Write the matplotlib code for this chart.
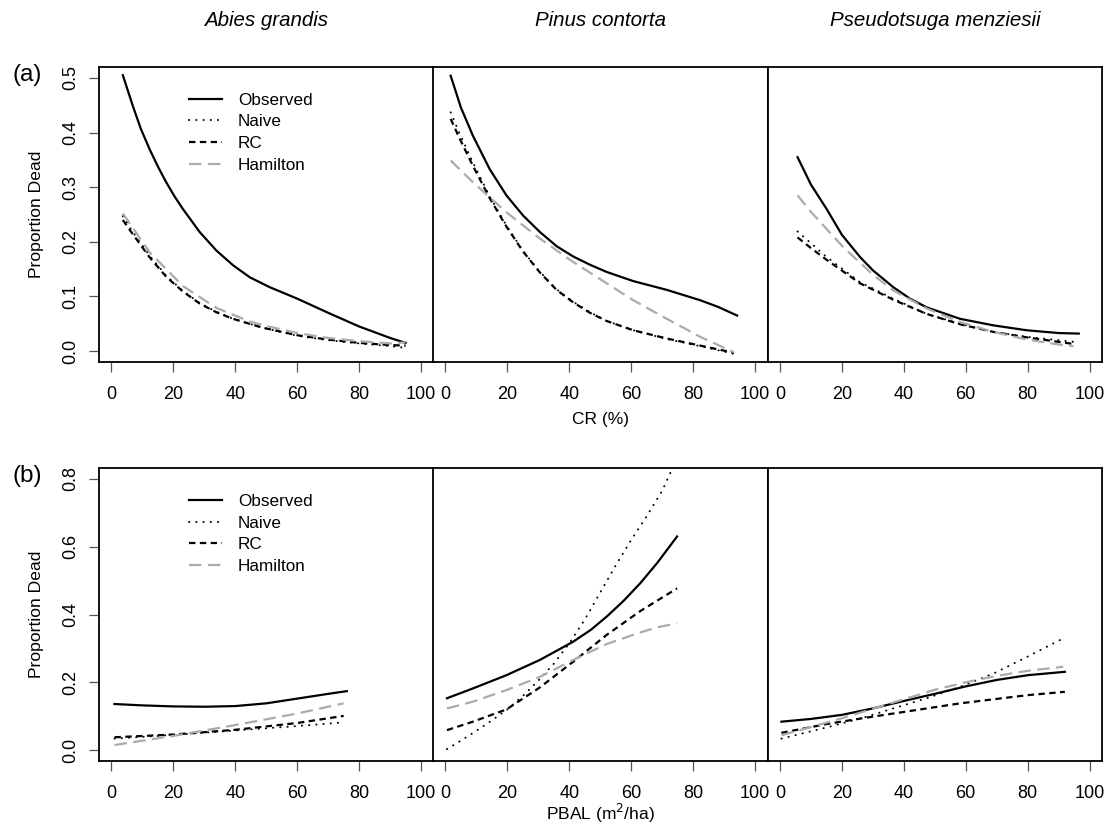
import matplotlib
matplotlib.use("Agg")
import matplotlib.pyplot as plt

plt.rcParams['font.family'] = ['Liberation Sans', 'DejaVu Sans']
plt.rcParams['lines.scale_dashes'] = False

species = ["Abies grandis", "Pinus contorta", "Pseudotsuga menziesii"]
series_names = ["Observed", "Naive", "RC", "Hamilton"]
x_ticks = [0, 20, 40, 60, 80, 100]
cr_y_ticks = [0.0, 0.1, 0.2, 0.3, 0.4, 0.5]
pbal_y_ticks = [0.0, 0.2, 0.4, 0.6, 0.8]

# ---------------- (a) CR ----------------
# Abies grandis
abgr_cr_obs_x = [3.7, 6.9, 9.5, 12.3, 15, 17.7, 20.4, 23.1, 28.5, 33.9, 39.3, 44.7, 51.1, 60, 70, 80, 90, 95]
abgr_cr_obs_y = [0.505, 0.449, 0.407, 0.370, 0.338, 0.309, 0.283, 0.260, 0.218, 0.184, 0.157, 0.135, 0.117, 0.096, 0.070, 0.045, 0.024, 0.015]
abgr_cr_naive_x = [3.7, 6.9, 12.3, 17.7, 23.1, 28.5, 33.9, 39.3, 48.7, 60, 70, 80, 90, 95]
abgr_cr_naive_y = [0.247, 0.218, 0.175, 0.138, 0.110, 0.088, 0.072, 0.059, 0.043, 0.028, 0.020, 0.014, 0.009, 0.006]
abgr_cr_rc_x = [3.7, 6.9, 12.3, 17.7, 23.1, 28.5, 33.9, 39.3, 48.7, 60, 70, 80, 90, 95]
abgr_cr_rc_y = [0.240, 0.214, 0.172, 0.136, 0.109, 0.087, 0.071, 0.059, 0.043, 0.029, 0.021, 0.015, 0.011, 0.010]
abgr_cr_ham_x = [3.7, 12.3, 23.1, 33.9, 44.7, 50, 60, 70, 80, 90, 95]
abgr_cr_ham_y = [0.252, 0.181, 0.119, 0.079, 0.054, 0.046, 0.033, 0.024, 0.018, 0.014, 0.016]

# Pinus contorta
pico_cr_obs_x = [1.7, 5, 8.9, 14.3, 19.7, 25.1, 30.5, 35.9, 41.3, 46.7, 52, 60.7, 71.5, 82.3, 88, 94.2]
pico_cr_obs_y = [0.504, 0.446, 0.394, 0.333, 0.285, 0.248, 0.218, 0.192, 0.173, 0.158, 0.145, 0.128, 0.112, 0.093, 0.081, 0.065]
pico_cr_naive_x = [1.7, 4.6, 8.9, 14.3, 19.7, 25.1, 30.5, 35.9, 41.3, 46.7, 52.1, 60.7, 71.5, 82.3, 93.1]
pico_cr_naive_y = [0.437, 0.398, 0.345, 0.283, 0.230, 0.183, 0.145, 0.113, 0.090, 0.071, 0.055, 0.038, 0.022, 0.009, -0.005]
pico_cr_rc_x = [1.7, 4.6, 8.9, 14.3, 19.7, 25.1, 30.5, 35.9, 41.3, 46.7, 52.1, 60.7, 71.5, 82.3, 93.1]
pico_cr_rc_y = [0.425, 0.389, 0.339, 0.280, 0.228, 0.182, 0.144, 0.112, 0.089, 0.070, 0.055, 0.038, 0.023, 0.010, -0.003]
pico_cr_ham_x = [1.7, 8.9, 19.7, 30.5, 41.3, 52.1, 60.7, 71.5, 82.3, 93.1]
pico_cr_ham_y = [0.349, 0.309, 0.254, 0.206, 0.163, 0.124, 0.093, 0.059, 0.026, -0.002]

# Pseudotsuga menziesii
psme_cr_obs_x = [5.7, 10, 15.1, 20, 25.9, 30, 36.6, 42, 47.4, 58.2, 69, 79.8, 90, 96.5]
psme_cr_obs_y = [0.355, 0.305, 0.260, 0.213, 0.172, 0.148, 0.117, 0.096, 0.080, 0.059, 0.047, 0.038, 0.033, 0.032]
psme_cr_naive_x = [5.7, 9.7, 15.1, 25.9, 36.6, 47.4, 58.2, 69, 79.8, 94.8]
psme_cr_naive_y = [0.219, 0.199, 0.172, 0.126, 0.096, 0.068, 0.050, 0.035, 0.026, 0.017]
psme_cr_rc_x = [5.7, 9.7, 15.1, 25.9, 36.6, 47.4, 58.2, 69, 79.8, 94.8]
psme_cr_rc_y = [0.208, 0.190, 0.167, 0.124, 0.094, 0.068, 0.049, 0.035, 0.025, 0.013]
psme_cr_ham_x = [5.7, 10, 20.5, 30, 36.6, 47.4, 58.2, 69, 79.8, 90, 94.8]
psme_cr_ham_y = [0.285, 0.255, 0.190, 0.140, 0.111, 0.078, 0.053, 0.035, 0.021, 0.012, 0.009]

# ---------------- (b) PBAL ----------------
abgr_pb_obs_x = [1, 10, 20, 30, 40, 50, 60, 70, 76]
abgr_pb_obs_y = [0.136, 0.132, 0.129, 0.128, 0.130, 0.138, 0.152, 0.166, 0.174]
abgr_pb_naive_x = [1, 20, 40, 60, 75]
abgr_pb_naive_y = [0.034, 0.045, 0.058, 0.071, 0.082]
abgr_pb_rc_x = [1, 20, 40, 60, 75]
abgr_pb_rc_y = [0.038, 0.046, 0.060, 0.080, 0.101]
abgr_pb_ham_x = [1, 20, 40, 60, 75]
abgr_pb_ham_y = [0.015, 0.042, 0.074, 0.108, 0.138]

pico_pb_obs_x = [0.5, 8.9, 19.7, 30.5, 41.3, 47, 52.1, 57.5, 62.9, 68.3, 74.8]
pico_pb_obs_y = [0.153, 0.182, 0.221, 0.266, 0.320, 0.355, 0.394, 0.440, 0.492, 0.551, 0.630]
pico_pb_naive_x = [0.5, 5, 10, 15, 20, 25, 30, 35, 40, 45, 50, 55, 60, 65, 70, 73]
pico_pb_naive_y = [0.003, 0.028, 0.057, 0.088, 0.120, 0.160, 0.205, 0.255, 0.315, 0.385, 0.465, 0.545, 0.620, 0.690, 0.765, 0.825]
pico_pb_rc_x = [0.5, 8.9, 19.7, 30.5, 41.3, 52.1, 62.9, 74.8]
pico_pb_rc_y = [0.059, 0.084, 0.120, 0.185, 0.261, 0.340, 0.410, 0.477]
pico_pb_ham_x = [0.5, 8.9, 19.7, 30.5, 41.3, 52.1, 62.9, 68.3, 74.8]
pico_pb_ham_y = [0.123, 0.143, 0.177, 0.216, 0.266, 0.313, 0.347, 0.362, 0.374]

psme_pb_obs_x = [0.5, 10, 20, 30, 40, 50, 60, 70, 80, 92]
psme_pb_obs_y = [0.084, 0.092, 0.104, 0.123, 0.145, 0.166, 0.188, 0.207, 0.221, 0.231]
psme_pb_naive_x = [0.5, 15.1, 25.9, 36.6, 47.4, 58.2, 69, 79.8, 90.5]
psme_pb_naive_y = [0.034, 0.067, 0.093, 0.123, 0.153, 0.187, 0.226, 0.275, 0.325]
psme_pb_rc_x = [0.5, 15.1, 25.9, 36.6, 47.4, 58.2, 69, 79.8, 92]
psme_pb_rc_y = [0.051, 0.077, 0.093, 0.108, 0.123, 0.138, 0.150, 0.162, 0.172]
psme_pb_ham_x = [0.5, 10, 20, 30, 40, 50, 60, 70, 80, 91.5]
psme_pb_ham_y = [0.044, 0.068, 0.094, 0.122, 0.150, 0.178, 0.200, 0.219, 0.234, 0.246]

cr_panels = [
    [(abgr_cr_obs_x, abgr_cr_obs_y), (abgr_cr_naive_x, abgr_cr_naive_y), (abgr_cr_rc_x, abgr_cr_rc_y), (abgr_cr_ham_x, abgr_cr_ham_y)],
    [(pico_cr_obs_x, pico_cr_obs_y), (pico_cr_naive_x, pico_cr_naive_y), (pico_cr_rc_x, pico_cr_rc_y), (pico_cr_ham_x, pico_cr_ham_y)],
    [(psme_cr_obs_x, psme_cr_obs_y), (psme_cr_naive_x, psme_cr_naive_y), (psme_cr_rc_x, psme_cr_rc_y), (psme_cr_ham_x, psme_cr_ham_y)],
]
pb_panels = [
    [(abgr_pb_obs_x, abgr_pb_obs_y), (abgr_pb_naive_x, abgr_pb_naive_y), (abgr_pb_rc_x, abgr_pb_rc_y), (abgr_pb_ham_x, abgr_pb_ham_y)],
    [(pico_pb_obs_x, pico_pb_obs_y), (pico_pb_naive_x, pico_pb_naive_y), (pico_pb_rc_x, pico_pb_rc_y), (pico_pb_ham_x, pico_pb_ham_y)],
    [(psme_pb_obs_x, psme_pb_obs_y), (psme_pb_naive_x, psme_pb_naive_y), (psme_pb_rc_x, psme_pb_rc_y), (psme_pb_ham_x, psme_pb_ham_y)],
]

styles = [
    dict(color='black', lw=1.6, linestyle='-', solid_joinstyle='round'),
    dict(color='black', lw=1.4, dashes=(0.2, 5.0), dash_capstyle='round'),
    dict(color='black', lw=1.6, dashes=(4.6, 3.2)),
    dict(color='#ABABAB', lw=1.6, dashes=(9.0, 4.6)),
]

W, H = 1116, 836
fig = plt.figure(figsize=(W / 100, H / 100), dpi=100)

lefts = [99, 433, 767.5]
pw = 334.5
rows = [dict(top=67, bottom=362, ylim=(-0.02, 0.52), yticks=cr_y_ticks, data=cr_panels, lab="(a)", leg_y=0.913),
        dict(top=468, bottom=761, ylim=(-0.032, 0.832), yticks=pbal_y_ticks, data=pb_panels, lab="(b)", leg_y=0.911)]

FS = 13
LFS = 12.3
for r, row in enumerate(rows):
    for c in range(3):
        ax = fig.add_axes([lefts[c] / W, 1 - row['bottom'] / H, pw / W, (row['bottom'] - row['top']) / H])
        for s, (xs, ys) in enumerate(row['data'][c]):
            ax.plot(xs, ys, label=series_names[s], **styles[s])
        ax.set_xlim(-4, 104)
        ax.set_ylim(*row['ylim'])
        ax.set_xticks(x_ticks)
        ax.set_xticklabels([str(t) for t in x_ticks])
        ax.tick_params(axis='x', direction='out', length=7.5, width=0.9, color='#555555',
                       labelsize=FS, pad=9.5)
        if c == 0:
            ax.set_yticks(row['yticks'])
            ax.set_yticklabels([f"{t:.1f}" for t in row['yticks']])
            ax.tick_params(axis='y', direction='out', length=7.5, width=0.9, color='#555555',
                           labelsize=FS, pad=6.5, labelrotation=90)
            for lab in ax.get_yticklabels():
                lab.set_va('center')
            ax.legend(loc='upper left', bbox_to_anchor=(0.269, row['leg_y']),
                      frameon=False, fontsize=LFS, handlelength=1.93, handletextpad=0.94,
                      labelspacing=0.39, borderpad=0, borderaxespad=0)
        else:
            ax.set_yticks([])
        for sp in ax.spines.values():
            sp.set_linewidth(1.3)
            sp.set_color('black')
    fig.text(13 / W, 1 - (row['top'] + 8) / H, row['lab'], fontsize=17.5, ha='left', va='center')
    fig.text(37 / W, 1 - ((row['top'] + row['bottom']) / 2) / H, "Proportion Dead",
             fontsize=12.6, rotation=90, ha='center', va='center')

for c, sp_name in enumerate(species):
    fig.text((lefts[c] + pw / 2) / W, 1 - 20 / H, sp_name, fontsize=14.8, style='italic',
             ha='center', va='center')

fig.text((lefts[1] + pw / 2) / W, 1 - 420 / H, "CR (%)", fontsize=12.5, ha='center', va='center')
fig.text((lefts[1] + pw / 2) / W, 1 - 813 / H, "PBAL (m$^2$/ha)", fontsize=12.5, ha='center', va='center')

fig.savefig("out.png", dpi=100)
